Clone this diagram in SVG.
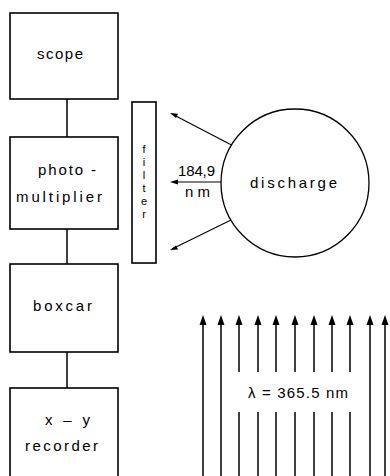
<svg xmlns="http://www.w3.org/2000/svg" width="390" height="476" viewBox="0 0 390 476">
<defs>
<style>
.box{fill:#fff;stroke:#000;stroke-width:1.6}
.ln{stroke:#000;stroke-width:1.5;fill:none}
.thin{stroke:#000;stroke-width:1.1;fill:none}
.t{font-family:"Liberation Sans","DejaVu Sans",sans-serif;font-size:15px;fill:#000}
.f{font-family:"Liberation Sans","DejaVu Sans",sans-serif;font-size:11px;fill:#000;text-anchor:middle}
.head{fill:#000;stroke:none}
</style>
</defs>
<rect width="390" height="476" fill="#fff"/>
<g id="connectors">
<line class="ln" x1="67" y1="99" x2="67" y2="137"/>
<line class="ln" x1="67" y1="229" x2="67" y2="264"/>
<line class="ln" x1="67" y1="352" x2="67" y2="388"/>
<line class="thin" x1="231.5" y1="145" x2="172" y2="114"/>
<polygon class="head" points="170,113 178,113.8 176,118"/>
<line class="thin" x1="221" y1="182" x2="174" y2="182"/>
<polygon class="head" points="170,182 178,179.5 178,184.5"/>
<line class="thin" x1="231" y1="220" x2="172" y2="249"/>
<polygon class="head" points="170,250 176,245.5 178,249.5"/>
</g>
<g id="scope">
<rect class="box" x="10" y="13" width="108" height="86"/>
<text class="t" x="37" y="59" textLength="46" lengthAdjust="spacing">scope</text>
</g>
<g id="photomultiplier">
<rect class="box" x="10" y="137" width="108" height="92"/>
<text class="t" x="38" y="175" textLength="58" lengthAdjust="spacing">photo -</text>
<text class="t" x="16" y="202" textLength="86" lengthAdjust="spacing">multiplier</text>
</g>
<g id="boxcar">
<rect class="box" x="10" y="264" width="108" height="88"/>
<text class="t" x="33" y="311" textLength="59" lengthAdjust="spacing">boxcar</text>
</g>
<g id="xy-recorder">
<rect class="box" x="10" y="388" width="108" height="100"/>
<text class="t" x="45" y="425" textLength="45" lengthAdjust="spacing">x – y</text>
<text class="t" x="25" y="451" textLength="73" lengthAdjust="spacing">recorder</text>
</g>
<g id="filter">
<rect class="box" x="132" y="102" width="24" height="161" stroke-width="1.2"/>
<text class="f" x="144" y="153"><tspan x="144" y="153">f</tspan><tspan x="144" y="166">i</tspan><tspan x="144" y="179">l</tspan><tspan x="144" y="192">t</tspan><tspan x="144" y="205">e</tspan><tspan x="144" y="218">r</tspan></text>
</g>
<g id="discharge">
<circle cx="295" cy="183" r="74" fill="none" stroke="#000" stroke-width="1.3"/>
<text class="t" x="250" y="188" textLength="87" lengthAdjust="spacing">discharge</text>
</g>
<g id="labels">
<text class="t" x="178" y="176" font-size="13" textLength="37" lengthAdjust="spacing">184,9</text>
<text class="t" x="185" y="197" font-size="13" textLength="25" lengthAdjust="spacing">nm</text>
</g>
<g id="uv-light">
<g class="ln">
<line x1="203" y1="322" x2="203" y2="476"/>
<line x1="221" y1="322" x2="221" y2="476"/>
<line x1="239" y1="322" x2="239" y2="372"/><line x1="239" y1="412" x2="239" y2="476"/>
<line x1="258" y1="322" x2="258" y2="372"/><line x1="258" y1="412" x2="258" y2="476"/>
<line x1="276" y1="322" x2="276" y2="372"/><line x1="276" y1="412" x2="276" y2="476"/>
<line x1="295" y1="322" x2="295" y2="372"/><line x1="295" y1="412" x2="295" y2="476"/>
<line x1="314" y1="322" x2="314" y2="372"/><line x1="314" y1="412" x2="314" y2="476"/>
<line x1="332" y1="322" x2="332" y2="372"/><line x1="332" y1="412" x2="332" y2="476"/>
<line x1="350" y1="322" x2="350" y2="372"/><line x1="350" y1="412" x2="350" y2="476"/>
<line x1="370" y1="322" x2="370" y2="476"/>
<line x1="385" y1="322" x2="385" y2="476"/>
</g>
<g class="head">
<polygon points="203,315 199.5,325 206.5,325"/>
<polygon points="221,315 217.5,325 224.5,325"/>
<polygon points="239,315 235.5,325 242.5,325"/>
<polygon points="258,315 254.5,325 261.5,325"/>
<polygon points="276,315 272.5,325 279.5,325"/>
<polygon points="295,315 291.5,325 298.5,325"/>
<polygon points="314,315 310.5,325 317.5,325"/>
<polygon points="332,315 328.5,325 335.5,325"/>
<polygon points="350,315 346.5,325 353.5,325"/>
<polygon points="370,315 366.5,325 373.5,325"/>
<polygon points="385,315 381.5,325 388.5,325"/>
</g>
<text class="t" x="248" y="398" textLength="100" lengthAdjust="spacing">λ = 365.5 nm</text>
</g>
</svg>
